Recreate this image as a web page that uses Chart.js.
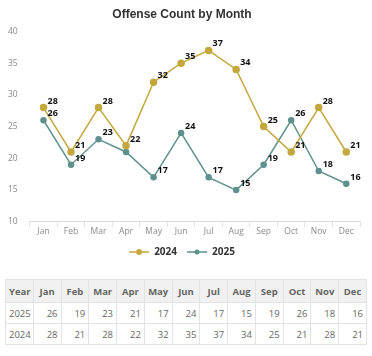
<!DOCTYPE html>
<html><head><meta charset="utf-8">
<script src="https://cdn.jsdelivr.net/npm/chart.js@4"></script>
<style>
html,body{margin:0;padding:0;background:#fff;width:372px;height:356px;overflow:hidden;font-family:"Open Sans",sans-serif;}
#wrap{position:absolute;left:0;top:0;width:372px;height:269px;}
table{position:absolute;left:5px;top:279px;width:362px;border-collapse:collapse;table-layout:fixed;font-size:9.5px;color:#666;}
th,td{border:1px solid #e3e3e3;padding:0 3px;}
th{background:#f1f1f1;font-weight:bold;height:22px;text-align:center;color:#666;}
td{height:20px;text-align:right;}
td:first-child{text-align:left;}
th:first-child{text-align:left;}
</style></head>
<body>
<div id="wrap"><canvas id="c"></canvas></div>
<table id="t"></table>
<script>
const months = ["Jan","Feb","Mar","Apr","May","Jun","Jul","Aug","Sep","Oct","Nov","Dec"];
const values2024 = [28,21,28,22,32,35,37,34,25,21,28,21];
const values2025 = [26,19,23,21,17,24,17,15,19,26,18,16];
const yTicks = [10,15,20,25,30,35,40];
const colors = {"2024":"#c4a83e","2025":"#5e918d"};

function legendIcon(color, r){
  const cv=document.createElement('canvas'); cv.width=20; cv.height=10;
  const x=cv.getContext('2d');
  x.strokeStyle=color; x.lineWidth=1.5;
  x.beginPath(); x.moveTo(0,5); x.lineTo(20,5); x.stroke();
  x.fillStyle=color; x.beginPath(); x.arc(10,5,r,0,Math.PI*2); x.fill();
  return cv;
}
const icons=[legendIcon(colors["2024"],3),legendIcon(colors["2025"],2.5)];

// value labels, skipping any that would collide with one already drawn
const labelPlugin={id:'vals',afterDatasetsDraw(chart){
  const ctx=chart.ctx; ctx.save();
  ctx.font='bold 9px "Open Sans", sans-serif'; ctx.fillStyle='#111';
  ctx.textAlign='left'; ctx.textBaseline='alphabetic';
  const boxes=[];
  chart.data.datasets.forEach((ds,i)=>{
    chart.getDatasetMeta(i).data.forEach((pt,j)=>{
      const txt=String(ds.data[j]);
      const w=ctx.measureText(txt).width, x=pt.x+4, y=pt.y-4;
      const b={l:x,r:x+w,t:y-8,btm:y};
      if(boxes.some(o=>b.l<o.r&&b.r>o.l&&b.t<o.btm&&b.btm>o.t)) return;
      boxes.push(b);
      ctx.fillText(txt, x, y);
    });
  });
  ctx.restore();
}};

new Chart(document.getElementById('c'),{
  type:'line',
  data:{labels:months,datasets:[
    {label:'2024',data:values2024,borderColor:colors["2024"],backgroundColor:colors["2024"],borderWidth:1.5,pointRadius:3,pointHoverRadius:3,tension:0,pointStyle:'circle'},
    {label:'2025',data:values2025,borderColor:colors["2025"],backgroundColor:colors["2025"],borderWidth:1.5,pointRadius:2.5,pointHoverRadius:2.5,tension:0,pointStyle:'circle'}
  ]},
  options:{
    responsive:true,maintainAspectRatio:false,animation:false,
    layout:{padding:{left:4,right:12,top:0,bottom:2}},
    plugins:{
      title:{display:true,text:'Offense Count by Month',color:'#333',font:{family:'Arial, "Liberation Sans", sans-serif',size:12,weight:'bold'},padding:{top:7,bottom:10}},
      legend:{position:'bottom',labels:{usePointStyle:true,pointStyleWidth:20,color:'#333',font:{family:'"Open Sans", sans-serif',size:10,weight:'bold'},padding:10,boxHeight:10,
        generateLabels(chart){const items=Chart.defaults.plugins.legend.labels.generateLabels(chart);items.forEach((it,k)=>{it.pointStyle=icons[k];});return items;}}},
      tooltip:{enabled:false}
    },
    scales:{
      x:{offset:true,grid:{display:true,drawOnChartArea:false,offset:true,color:'#e2e2e2',tickLength:5},border:{color:'#ddd'},
         ticks:{color:'#8a8a8a',font:{family:'"Open Sans", sans-serif',size:8.5},padding:0}},
      y:{min:10,max:40,afterBuildTicks(ax){ax.ticks=yTicks.map(v=>({value:v}));},
         grid:{display:false},border:{display:false},
         ticks:{color:'#8a8a8a',font:{family:'"Open Sans", sans-serif',size:8.5},padding:4}}
    }
  },
  plugins:[labelPlugin]
});

const t=document.getElementById('t');
let h='<tr><th>Year</th>'+months.map(m=>'<th>'+m+'</th>').join('')+'</tr>';
h+='<tr><td>2025</td>'+values2025.map(v=>'<td>'+v+'</td>').join('')+'</tr>';
h+='<tr><td>2024</td>'+values2024.map(v=>'<td>'+v+'</td>').join('')+'</tr>';
t.innerHTML=h;
</script>
</body></html>
